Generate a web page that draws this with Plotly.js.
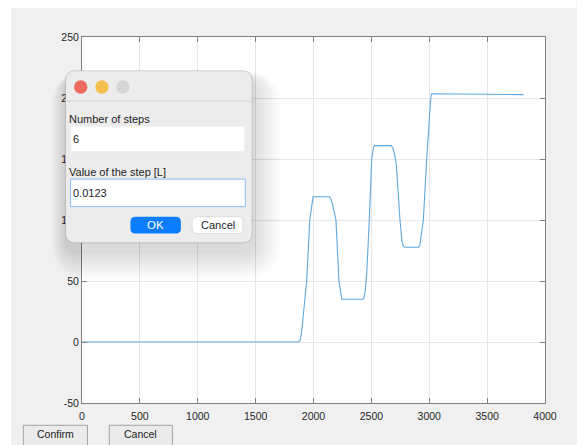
<!DOCTYPE html>
<html>
<head>
<meta charset="utf-8">
<script src="https://cdn.plot.ly/plotly-3.0.1.min.js"></script>
<style>
  html, body { margin: 0; padding: 0; background: #ffffff; }
  #chart { width: 577px; height: 445px; }
</style>
</head>
<body>
<div id="chart"></div>
<script>
// Volume trace over time (samples), read as a sequence of steps
const timeSamples = [0, 1870, 1882, 1895, 1915, 1941, 1968, 1985, 1996,
  2138, 2152, 2166, 2180, 2194, 2220, 2234, 2244,
  2428, 2438, 2448, 2462, 2482, 2503, 2518, 2528,
  2672, 2686, 2700, 2716, 2747, 2765, 2776, 2786,
  2908, 2920, 2932, 2949, 2978, 3000, 3012, 3020, 3815];
const volume = [0, 0, 1, 6, 25, 50, 100, 114, 119,
  119, 117, 112, 106, 100, 50, 38, 35,
  35, 37, 43, 60, 100, 150, 159, 161,
  161, 159, 154, 145, 100, 82, 78.5, 77.7,
  77.7, 80, 88, 100, 150, 185, 199, 203.5, 202.8];

const xTicks = [0, 500, 1000, 1500, 2000, 2500, 3000, 3500, 4000];
const yTicks = [-50, 0, 50, 100, 150, 200, 250];

// Dialog content
const dialogLabels = ['Number of steps', 'Value of the step [L]'];
const dialogValues = ['6', '0.0123'];
const dialogButtons = ['OK', 'Cancel'];
const figureButtons = ['Confirm', 'Cancel'];

// Plot box in pixels, used to place overlay widgets in paper units
const BOX = { l: 82, r: 545.5, t: 37, b: 402.7 };
const fx = p => (p - BOX.l) / (BOX.r - BOX.l);
const fy = p => (BOX.b - p) / (BOX.b - BOX.t);

function roundRect(x0, y0, x1, y1, r) {
  const P = (x, y) => fx(x) + ',' + fy(y);
  return 'M' + P(x0 + r, y0) + ' L' + P(x1 - r, y0) + ' Q' + P(x1, y0) + ' ' + P(x1, y0 + r) +
    ' L' + P(x1, y1 - r) + ' Q' + P(x1, y1) + ' ' + P(x1 - r, y1) +
    ' L' + P(x0 + r, y1) + ' Q' + P(x0, y1) + ' ' + P(x0, y1 - r) +
    ' L' + P(x0, y0 + r) + ' Q' + P(x0, y0) + ' ' + P(x0 + r, y0) + ' Z';
}
function rectShape(x0, y0, x1, y1, fill, line, lw, layer) {
  return { type: 'rect', xref: 'paper', yref: 'paper', layer: layer || 'above',
    x0: fx(x0), x1: fx(x1), y0: fy(y0), y1: fy(y1),
    fillcolor: fill, line: { color: line || fill, width: lw || 0 } };
}
function pathShape(path, fill, line, lw) {
  return { type: 'path', xref: 'paper', yref: 'paper', layer: 'above', path: path,
    fillcolor: fill, line: { color: line || fill, width: lw || 0 } };
}
function dot(cx, cy, r, fill) {
  return { type: 'circle', xref: 'paper', yref: 'paper', layer: 'above',
    x0: fx(cx - r), x1: fx(cx + r), y0: fy(cy + r), y1: fy(cy - r),
    fillcolor: fill, line: { width: 0 } };
}
function label(text, x, y, anchor, color, size) {
  return { text: text, xref: 'paper', yref: 'paper', x: fx(x), y: fy(y),
    xanchor: anchor, yanchor: 'middle', showarrow: false, borderpad: 0, borderwidth: 0,
    font: { family: 'Liberation Sans, Arial, sans-serif', size: size || 11, color: color || '#1d1d1f' } };
}

const shapes = [];
// white margin strips around the figure window
shapes.push(rectShape(0, 0, 11, 445, '#ffffff', null, 0, 'below'));
shapes.push(rectShape(0, 0, 577, 8, '#ffffff', null, 0, 'below'));

// soft drop shadow under the dialog
const D = { x0: 65.5, y0: 70.7, x1: 252.3, y1: 242.7 };
for (let i = 0; i < 12; i++) {
  const e = 2 + i * 2.4;
  shapes.push(pathShape(roundRect(D.x0 - e * 0.5, D.y0 - e * 0.3 + 8, D.x1 + e, D.y1 + e + 8, 10 + e),
    'rgba(0,0,0,0.012)'));
}
// dialog window
shapes.push(pathShape(roundRect(D.x0, D.y0, D.x1, D.y1, 10), '#ececec', 'rgba(0,0,0,0.18)', 0.8));
shapes.push({ type: 'line', xref: 'paper', yref: 'paper', layer: 'above',
  x0: fx(D.x0), x1: fx(D.x1), y0: fy(101), y1: fy(101), line: { color: '#d4d4d4', width: 1 } });
shapes.push(dot(80.7, 87, 6.7, '#ec6a5e'));
shapes.push(dot(102, 87, 6.7, '#f4bf4f'));
shapes.push(dot(123, 87, 6.7, '#d6d6d6'));
// input fields
shapes.push(rectShape(70.7, 126, 245, 151.7, '#ffffff', '#e4e4e4', 0.6));
shapes.push(rectShape(70.5, 179, 245.5, 206.5, '#ffffff', '#8cbcf3', 1));
// dialog buttons
shapes.push(pathShape(roundRect(130.5, 216.7, 181, 233.3, 5), '#0b7dfe'));
shapes.push(pathShape(roundRect(192.3, 216.7, 243, 233.3, 5), '#ffffff', 'rgba(0,0,0,0.14)', 0.7));
// figure push buttons
shapes.push(rectShape(23.3, 425, 87.5, 448, '#ebebeb', '#a4a4a4', 1));
shapes.push(rectShape(109.3, 425, 172.5, 448, '#ebebeb', '#a4a4a4', 1));

const annotations = [
  label(dialogLabels[0], 69.3, 118.5, 'left'),
  label(dialogValues[0], 72.5, 138.8, 'left'),
  label(dialogLabels[1], 69.3, 172.3, 'left'),
  label(dialogValues[1], 72.5, 192.8, 'left'),
  label(dialogButtons[0], 155.7, 225.2, 'center', '#ffffff', 11.5),
  label(dialogButtons[1], 217.7, 225.2, 'center', '#1d1d1f', 11),
  label(figureButtons[0], 55.4, 433.5, 'center', '#1a1a1a', 10.5),
  label(figureButtons[1], 141, 433.5, 'center', '#1a1a1a', 10.5)
];

const axisCommon = {
  showgrid: true, gridcolor: '#e6e6e6', gridwidth: 1,
  showline: true, linecolor: '#7f7f7f', linewidth: 1, mirror: 'ticks',
  ticks: 'inside', ticklen: 5, tickcolor: '#7f7f7f', tickwidth: 1,
  zeroline: false, fixedrange: true,
  tickfont: { family: 'Liberation Sans, Arial, sans-serif', size: 10.5, color: '#262626' }
};

const trace = {
  x: timeSamples, y: volume, type: 'scatter', mode: 'lines',
  line: { color: '#5ea8de', width: 1.1 }, hoverinfo: 'skip'
};

const layout = {
  width: 577, height: 445,
  margin: { l: BOX.l, r: 577 - BOX.r, t: BOX.t, b: 445 - BOX.b, pad: 0 },
  paper_bgcolor: '#f0f0f0', plot_bgcolor: '#ffffff',
  showlegend: false,
  xaxis: Object.assign({}, axisCommon, { range: [0, 4000], tickvals: xTicks, ticktext: xTicks.map(String),
    ticklabelstandoff: 3 }),
  yaxis: Object.assign({}, axisCommon, { range: [-50, 250], tickvals: yTicks, ticktext: yTicks.map(String),
    ticklabelstandoff: 1.5 }),
  shapes: shapes,
  annotations: annotations
};

Plotly.newPlot('chart', [trace], layout, { displayModeBar: false, staticPlot: true });
</script>
</body>
</html>
